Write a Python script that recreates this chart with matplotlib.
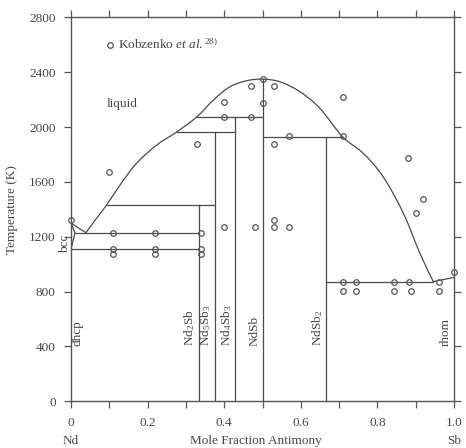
import matplotlib
matplotlib.use("Agg")
import matplotlib.pyplot as plt
from matplotlib.path import Path
from matplotlib.patches import PathPatch

plt.rcParams['font.family'] = ['Liberation Serif', 'DejaVu Serif']
plt.rcParams['mathtext.fontset'] = 'custom'
plt.rcParams['mathtext.rm'] = 'Liberation Serif'
plt.rcParams['mathtext.it'] = 'Liberation Serif:italic'

# ---- data ----
# Nd-side liquidus corner (straight), main liquidus dome (smooth), Sb-side (straight)
liq_nd_x = [0.0, 0.039]
liq_nd_T = [1300, 1230]
liq_x = [0.039, 0.063, 0.093, 0.128, 0.171, 0.224, 0.276, 0.328, 0.372, 0.415, 0.459, 0.5,
         0.546, 0.598, 0.65, 0.709, 0.763, 0.815, 0.868, 0.911, 0.946]
liq_T = [1230, 1322, 1432, 1578, 1736, 1870, 1965, 2074, 2198, 2295, 2339, 2350,
         2331, 2258, 2137, 1930, 1809, 1638, 1371, 1079, 873]
liq_sb_x = [0.946, 1.0]
liq_sb_T = [873, 904]
# bcc Nd region boundaries
bcc_x = [0.0, 0.0104, 0.0]
bcc_T = [1300, 1230, 1110]

# compounds: composition, top temperature, label
comp_x = [1/3, 3/8, 3/7, 0.5, 2/3]
comp_T = [1434, 1964, 2074, 2350, 1928]
comp_labels = [r'Nd$_{\mathrm{2}}$Sb', r'Nd$_{\mathrm{5}}$Sb$_{\mathrm{3}}$',
               r'Nd$_{\mathrm{4}}$Sb$_{\mathrm{3}}$', 'NdSb', r'NdSb$_{\mathrm{2}}$']

# invariant horizontal lines: T, x_start, x_end
inv_T = [1110, 1230, 1434, 1964, 2074, 1928, 873]
inv_x0 = [0.0, 0.0104, 0.093, 0.276, 0.328, 0.5, 2/3]
inv_x1 = [1/3, 1/3, 3/8, 3/7, 0.5, 0.709, 0.946]

# Kobzenko et al. experimental points
exp_x = [0.0, 0.10,
         0.11, 0.22, 0.34, 0.11, 0.22, 0.34, 0.11, 0.22, 0.34,
         0.33, 0.40, 0.40, 0.40,
         0.47, 0.53, 0.50, 0.50, 0.47,
         0.57, 0.709, 0.53, 0.709,
         0.881, 0.92, 0.90,
         0.53, 0.48, 0.53, 0.57,
         0.709, 0.744, 0.844, 0.883, 0.961,
         0.709, 0.744, 0.844, 0.889, 0.961,
         1.0]
exp_T = [1322, 1675,
         1227, 1227, 1227, 1113, 1113, 1113, 1072, 1072, 1072,
         1880, 2181, 2076, 1274,
         2300, 2300, 2349, 2174, 2076,
         1934, 1934, 1880, 2222,
         1772, 1473, 1371,
         1322, 1274, 1274, 1274,
         873, 873, 873, 873, 873,
         802, 802, 802, 802, 802,
         945]

xticks = [0, 0.1, 0.2, 0.3, 0.4, 0.5, 0.6, 0.7, 0.8, 0.9, 1.0]
xticklabels = ['0', '', '0.2', '', '0.4', '', '0.6', '', '0.8', '', '1.0']
yticks = [0, 400, 800, 1200, 1600, 2000, 2400, 2800]

# ---- style ----
LC = '#4a4a4a'
TC = '#474747'
FS = 9.5


def smooth_path(xs, ys):
    """Catmull-Rom spline through the given points, as cubic Bezier path."""
    pts = list(zip(xs, ys))
    n = len(pts)
    verts = [pts[0]]
    codes = [Path.MOVETO]
    for i in range(n - 1):
        p0 = pts[i - 1] if i > 0 else pts[i]
        p1 = pts[i]
        p2 = pts[i + 1]
        p3 = pts[i + 2] if i + 2 < n else pts[i + 1]
        c1 = (p1[0] + (p2[0] - p0[0]) / 6, p1[1] + (p2[1] - p0[1]) / 6)
        c2 = (p2[0] - (p3[0] - p1[0]) / 6, p2[1] - (p3[1] - p1[1]) / 6)
        verts += [c1, c2, p2]
        codes += [Path.CURVE4] * 3
    return Path(verts, codes)


fig = plt.figure(figsize=(4.66, 4.48), dpi=100)
ax = fig.add_axes([71/466, 1-401.3/448, 383/466, 383.8/448])

ax.plot(liq_nd_x, liq_nd_T, color=LC, lw=0.9)
ax.add_patch(PathPatch(smooth_path(liq_x, liq_T), facecolor='none', edgecolor=LC, lw=0.9))
ax.plot(liq_sb_x, liq_sb_T, color=LC, lw=0.9)
ax.plot(bcc_x, bcc_T, color=LC, lw=0.9)
for x, t in zip(comp_x, comp_T):
    ax.plot([x, x], [0, t], color=LC, lw=0.9)
for t, x0, x1 in zip(inv_T, inv_x0, inv_x1):
    ax.plot([x0, x1], [t, t], color=LC, lw=0.9)

ax.plot(exp_x, exp_T, linestyle='none', marker='o', ms=4, mfc='none',
        mec='#555555', mew=0.9, clip_on=False, zorder=5)

# legend
ax.plot([0.102], [2600], marker='o', ms=4, mfc='none', mec='#555555', mew=0.9)
ax.text(0.122, 2600, r'Kobzenko $\mathit{et\ al.}^{\mathrm{28)}}$', fontsize=FS,
        color=TC, va='center', ha='left')

# region labels
ax.text(0.094, 2168, 'liquid', fontsize=FS, color=TC, va='center', ha='left')
for x, lab in zip(comp_x, comp_labels):
    ax.text(x - 0.004, 400, lab, rotation=90, fontsize=FS, color=TC,
            ha='right', va='bottom')
ax.text(0.032, 400, 'dhcp', rotation=90, fontsize=FS, color=TC, ha='right', va='bottom')
ax.text(0.995, 400, 'rhom', rotation=90, fontsize=FS, color=TC, ha='right', va='bottom')
ax.text(0.001, 1150, 'bcc', rotation=90, fontsize=FS, color=TC, ha='right',
        va='center', clip_on=False)

ax.set_xlim(0, 1.0)
ax.set_ylim(0, 2800)
ax.set_xticks(xticks)
ax.set_xticklabels(xticklabels)
ax.set_yticks(yticks)
ax.tick_params(direction='out', length=5, width=0.9, color='#555555',
               labelsize=FS, labelcolor=TC, top=True, right=True, pad=6)
for s in ax.spines.values():
    s.set_color('#555555')
    s.set_linewidth(1.0)

ax.set_ylabel('Temperature (K)', fontsize=FS, color=TC, labelpad=8)
fig.text(256/466, 1-441/448, 'Mole Fraction Antimony', fontsize=FS, color=TC,
         ha='center', va='center')
fig.text(71/466, 1-441/448, 'Nd', fontsize=FS, color=TC, ha='center', va='center')
fig.text(454/466, 1-441/448, 'Sb', fontsize=FS, color=TC, ha='center', va='center')

fig.savefig('out.png', dpi=100)
